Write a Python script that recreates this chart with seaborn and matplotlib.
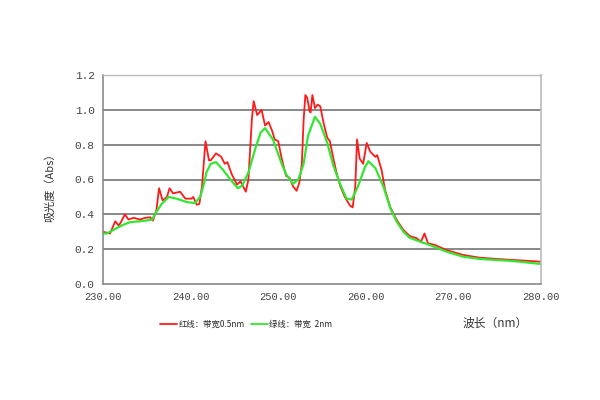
import matplotlib
matplotlib.use("Agg")
import matplotlib.pyplot as plt
import seaborn as sns
import pandas as pd
from matplotlib.lines import Line2D

# ---- data ----
red_wl = [230.0, 230.8, 231.4, 231.8, 232.1, 232.5, 232.9, 233.5, 234.2, 234.8,
          235.4, 235.7, 236.1, 236.4, 236.8, 237.3, 237.6, 238.0, 238.8, 239.4,
          240.1, 240.3, 240.7, 241.0, 241.3, 241.7, 242.1, 242.3, 242.9, 243.5,
          243.9, 244.2, 244.7, 245.3, 245.7, 246.3, 246.6, 247.0, 247.2, 247.6,
          248.1, 248.5, 248.9, 249.3, 249.6, 250.0, 250.4, 250.9, 251.3, 251.7,
          252.1, 252.4, 252.7, 252.9, 253.1, 253.3, 253.6, 253.7, 253.9, 254.2,
          254.5, 254.8, 255.2, 255.6, 255.9, 256.3, 256.7, 257.1, 257.6, 258.2,
          258.5, 258.8, 259.0, 259.3, 259.7, 260.1, 260.5, 261.1, 261.3, 261.8,
          262.2, 262.8, 263.5, 264.3, 265.0, 265.8, 266.3, 266.7, 267.1, 267.9,
          269.2, 271.1, 273.0, 274.9, 276.8, 280.0]
red_abs = [0.30, 0.29, 0.36, 0.335, 0.36, 0.40, 0.37, 0.38, 0.37, 0.38,
           0.383, 0.364, 0.425, 0.55, 0.48, 0.50, 0.55, 0.52, 0.53, 0.49,
           0.49, 0.50, 0.455, 0.46, 0.56, 0.82, 0.71, 0.71, 0.75, 0.73,
           0.69, 0.70, 0.63, 0.57, 0.59, 0.53, 0.60, 0.95, 1.05, 0.97,
           1.00, 0.91, 0.93, 0.88, 0.83, 0.82, 0.72, 0.62, 0.61, 0.56,
           0.535, 0.58, 0.69, 0.94, 1.085, 1.07, 0.99, 0.985, 1.085, 1.01,
           1.03, 1.02, 0.92, 0.84, 0.82, 0.72, 0.63, 0.56, 0.50, 0.45,
           0.44, 0.56, 0.83, 0.72, 0.69, 0.81, 0.76, 0.73, 0.74, 0.655,
           0.54, 0.44, 0.37, 0.31, 0.276, 0.263, 0.243, 0.29, 0.234, 0.224,
           0.195, 0.167, 0.151, 0.144, 0.138, 0.128]

green_wl = [230.0, 230.4, 230.8, 231.9, 232.3, 233.1, 234.2, 235.0, 235.6, 236.1,
            236.7, 237.5, 238.4, 239.6, 240.5, 241.1, 241.6, 241.8, 242.3, 242.9,
            243.7, 244.7, 245.4, 245.9, 246.6, 247.4, 248.0, 248.5, 249.4, 250.4,
            250.9, 251.7, 252.3, 252.9, 253.4, 254.2, 254.8, 255.6, 256.3, 257.1,
            257.8, 258.4, 259.1, 259.9, 260.3, 261.1, 262.0, 262.8, 263.5, 264.3,
            265.0, 266.2, 267.3, 269.2, 271.1, 273.0, 276.8, 280.0]
green_abs = [0.29, 0.29, 0.30, 0.33, 0.34, 0.355, 0.36, 0.365, 0.37, 0.415,
             0.46, 0.50, 0.49, 0.47, 0.465, 0.50, 0.59, 0.64, 0.69, 0.70,
             0.655, 0.59, 0.55, 0.565, 0.64, 0.78, 0.87, 0.895, 0.83, 0.69,
             0.63, 0.575, 0.60, 0.69, 0.85, 0.96, 0.92, 0.81, 0.68, 0.57,
             0.49, 0.485, 0.56, 0.67, 0.705, 0.665, 0.56, 0.435, 0.36, 0.30,
             0.266, 0.243, 0.224, 0.186, 0.157, 0.144, 0.132, 0.115]

series_names = ["红线：带宽0.5nm", "绿线：带宽  2nm"]
x_ticks = [230, 240, 250, 260, 270, 280]
x_ticklabels = ["230.00", "240.00", "250.00", "260.00", "270.00", "280.00"]
y_ticks = [0.0, 0.2, 0.4, 0.6, 0.8, 1.0, 1.2]
y_ticklabels = ["0.0", "0.2", "0.4", "0.6", "0.8", "1.0", "1.2"]
x_label = "波长（nm）"
y_label = "吸光度（Abs）"

colors = ["#ff1a1a", "#33e633"]

df = pd.concat([
    pd.DataFrame({"wl": red_wl, "abs": red_abs, "series": series_names[0]}),
    pd.DataFrame({"wl": green_wl, "abs": green_abs, "series": series_names[1]}),
])

sns.set_style("white")
plt.rcParams["font.family"] = ["Noto Sans CJK SC", "DejaVu Sans"]

fig = plt.figure(figsize=(6, 4), dpi=100)
ax = fig.add_axes([103 / 600, 1 - 284 / 400, 438 / 600, 209 / 400])

sns.lineplot(data=df, x="wl", y="abs", hue="series", palette=colors,
             hue_order=series_names, ax=ax, legend=False, sort=False,
             estimator=None)
for line, lw in zip(ax.lines, [1.3, 1.6]):
    line.set_linewidth(lw)

ax.set_xlim(230, 280)
ax.set_ylim(0, 1.2)
for yv in y_ticks[1:-1]:
    ax.axhline(yv, color="#7f7f7f", lw=1.3, zorder=0)

ax.set_xticks(x_ticks)
ax.set_xticklabels(x_ticklabels, family=["Liberation Mono", "DejaVu Sans Mono"],
                   fontsize=7.5, color="#444444")
ax.set_yticks(y_ticks)
ax.set_yticklabels(y_ticklabels, family=["Liberation Mono", "DejaVu Sans Mono"],
                   fontsize=8, color="#444444")
ax.tick_params(axis="x", direction="in", length=3, color="#666666", pad=6)
ax.tick_params(axis="y", length=0, pad=6)

for side in ["left", "bottom", "right"]:
    ax.spines[side].set_color("#8a8a8a")
    ax.spines[side].set_linewidth(1.2)
ax.spines["right"].set_color("#bbbbbb")
ax.spines["top"].set_color("#bbbbbb")
ax.spines["top"].set_linewidth(1.0)

ax.set_xlabel("")
ax.set_ylabel("")
fig.text(50 / 600, 1 - 185 / 400, y_label, rotation=90, ha="center", va="center",
         fontsize=8, color="#333333")
fig.text(495 / 600, 1 - 323 / 400, x_label, ha="center", va="center",
         fontsize=8.5, color="#333333")

handles = [Line2D([], [], color=c, lw=1.3) for c in colors]
fig.legend(handles, series_names, loc="center left",
           bbox_to_anchor=(160 / 600, 1 - 324 / 400), ncol=2, frameon=False,
           fontsize=6, handlelength=2.0, handletextpad=0.2, columnspacing=0.8,
           borderaxespad=0, borderpad=0)

fig.savefig("out.png", dpi=100, facecolor="white")
